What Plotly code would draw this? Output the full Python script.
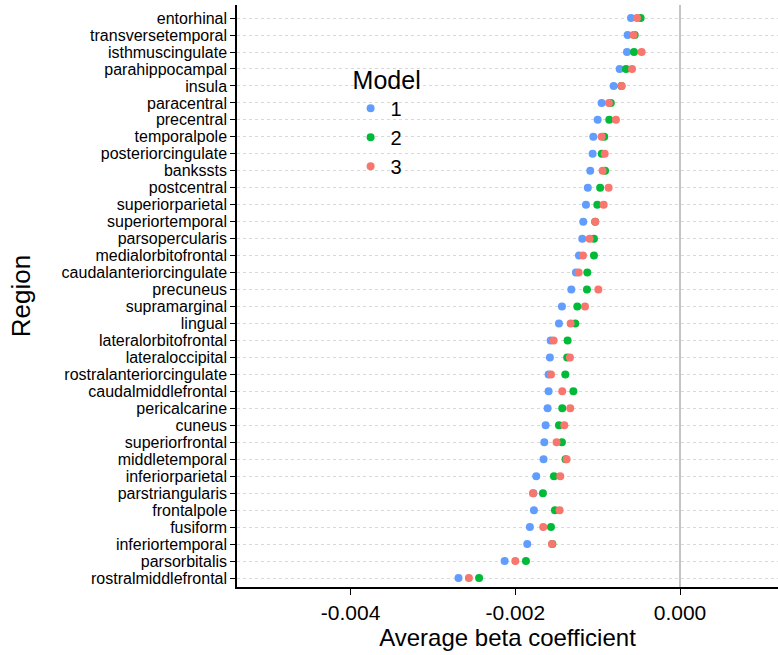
import plotly.graph_objects as go

regions = ["entorhinal", "transversetemporal", "isthmuscingulate", "parahippocampal", "insula",
           "paracentral", "precentral", "temporalpole", "posteriorcingulate", "bankssts",
           "postcentral", "superiorparietal", "superiortemporal", "parsopercularis",
           "medialorbitofrontal", "caudalanteriorcingulate", "precuneus", "supramarginal",
           "lingual", "lateralorbitofrontal", "lateraloccipital", "rostralanteriorcingulate",
           "caudalmiddlefrontal", "pericalcarine", "cuneus", "superiorfrontal", "middletemporal",
           "inferiorparietal", "parstriangularis", "frontalpole", "fusiform", "inferiortemporal",
           "parsorbitalis", "rostralmiddlefrontal"]

model1 = [-0.000595, -0.000636, -0.000644, -0.000733, -0.000806, -0.000952, -0.001000, -0.001053,
          -0.001061, -0.001090, -0.001120, -0.001142, -0.001175, -0.001187, -0.001227, -0.001264,
          -0.001320, -0.001434, -0.001470, -0.001571, -0.001580, -0.001596, -0.001596, -0.001608,
          -0.001632, -0.001648, -0.001657, -0.001746, -0.001780, -0.001774, -0.001823, -0.001855,
          -0.002130, -0.002690]
model2 = [-0.000478, -0.000550, -0.000559, -0.000656, -0.000712, -0.000840, -0.000859, -0.000920,
          -0.000950, -0.000910, -0.000970, -0.001004, -0.001030, -0.001045, -0.001045, -0.001126,
          -0.001130, -0.001247, -0.001272, -0.001365, -0.001370, -0.001393, -0.001295, -0.001430,
          -0.001470, -0.001434, -0.001390, -0.001531, -0.001665, -0.001519, -0.001567, -0.001550,
          -0.001871, -0.002440]
model3 = [-0.000522, -0.000563, -0.000466, -0.000583, -0.000709, -0.000863, -0.000778, -0.000952,
          -0.000915, -0.000940, -0.000867, -0.000927, -0.001029, -0.001098, -0.001179, -0.001231,
          -0.000992, -0.001154, -0.001328, -0.001535, -0.001337, -0.001567, -0.001430, -0.001333,
          -0.001405, -0.001499, -0.001377, -0.001454, -0.001786, -0.001462, -0.001661, -0.001555,
          -0.002000, -0.002564]

models = ["1", "2", "3"]
colors = ["#619CFF", "#00BA38", "#F8766D"]
series = [model1, model2, model3]
x_ticks = [-0.004, -0.002, 0.0]
x_tick_labels = ["-0.004", "-0.002", "0.000"]

fig = go.Figure()
for name, col, vals in zip(models, colors, series):
    fig.add_trace(go.Scatter(
        x=vals, y=regions, mode="markers", name=name,
        marker=dict(color=col, size=8, line=dict(width=0)),
    ))

font_family = "Arial, Liberation Sans, sans-serif"
fig.update_layout(
    width=778, height=655,
    margin=dict(l=237, r=0, t=5, b=68),
    plot_bgcolor="white", paper_bgcolor="white",
    font=dict(family=font_family, color="black"),
    showlegend=True,
    legend=dict(
        title=dict(text="Model", font=dict(size=25, color="black")),
        font=dict(size=20, color="black"),
        x=0.21, y=0.912, xanchor="left", yanchor="top",
        bgcolor="rgba(0,0,0,0)", itemsizing="trace", tracegroupgap=0,
    ),
    xaxis=dict(
        range=[-0.00538, 0.00119],
        tickmode="array", tickvals=x_ticks, ticktext=x_tick_labels,
        tickfont=dict(size=21, color="black"),
        showgrid=False,
        zeroline=True, zerolinecolor="#c4c4c4", zerolinewidth=2,
        showline=True, linecolor="black", linewidth=1.5,
        ticks="outside", ticklen=6, tickcolor="black",
        title=dict(text="Average beta coefficient", font=dict(size=24, color="black"), standoff=2),
    ),
    yaxis=dict(
        categoryorder="array", categoryarray=regions[::-1],
        tickmode="array", tickvals=regions,
        range=[-0.53, 33.77],
        tickfont=dict(size=16, color="black"),
        showgrid=True, gridcolor="#d9d9d9", griddash="dot", gridwidth=1,
        showline=True, linecolor="black", linewidth=1.5,
        ticks="outside", ticklen=5, tickcolor="black",
        title=dict(text="Region", font=dict(size=26, color="black"), standoff=23),
    ),
)

fig.write_html("out.html", config={"displayModeBar": False},
               post_script="document.body.style.margin='0';document.body.style.overflow='hidden';")
